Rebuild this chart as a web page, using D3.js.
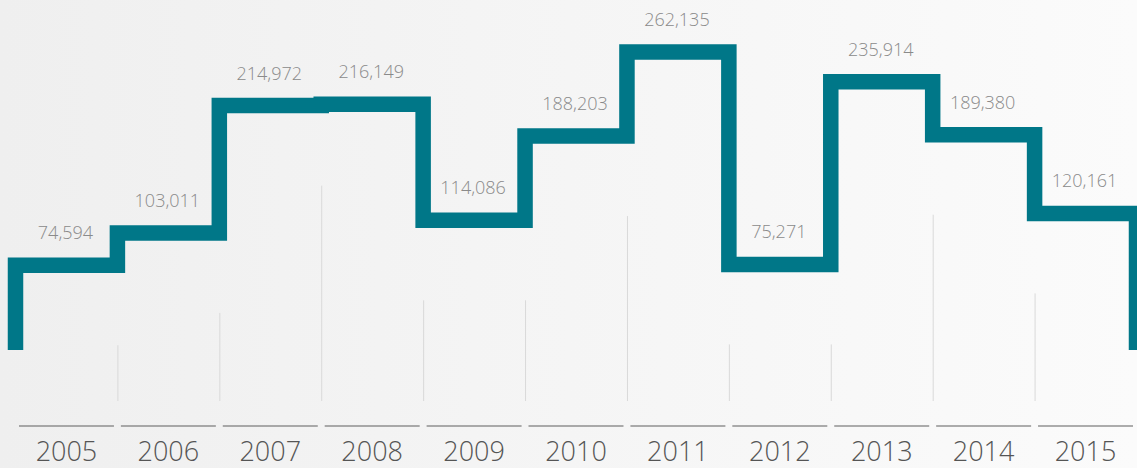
<!DOCTYPE html>
<html>
<head>
<meta charset="utf-8">
<script src="https://cdn.jsdelivr.net/npm/d3@7"></script>
<style>
  html, body { margin: 0; padding: 0; background: #f4f4f4; }
  svg { display: block; }
  text { font-family: "Open Sans", "Noto Sans", sans-serif; font-weight: 300; }
</style>
</head>
<body>
<svg id="chart" width="1137" height="468"></svg>
<script>
// Yearly totals, drawn as a stepped line
const years = ["2005", "2006", "2007", "2008", "2009", "2010", "2011", "2012", "2013", "2014", "2015"];
const totals = [74594, 103011, 214972, 216149, 114086, 188203, 262135, 75271, 235914, 189380, 120161];
const totalLabels = ["74,594", "103,011", "214,972", "216,149", "114,086", "188,203", "262,135", "75,271", "235,914", "189,380", "120,161"];

const W = 1137, H = 468;
const svg = d3.select("#chart");

// soft background wash
const defs = svg.append("defs");
const grad = defs.append("linearGradient").attr("id", "bg")
  .attr("x1", "0%").attr("y1", "0%").attr("x2", "100%").attr("y2", "0%");
grad.append("stop").attr("offset", "0%").attr("stop-color", "#efefef");
grad.append("stop").attr("offset", "100%").attr("stop-color", "#fbfbfb");
svg.append("rect").attr("width", W).attr("height", H).attr("fill", "url(#bg)");

// one band per year
const x = d3.scaleBand().domain(years).range([15.5, 1136.5])
  .paddingInner(0.068).paddingOuter(0.034);
const edge = i => x.range()[0] + i * x.step();   // column boundaries

const y = d3.scaleLinear().domain([0, d3.max(totals)]).range([350, 52]);

// thin separators between columns, stopping a fixed distance under the lower step
const sepBottom = 401, sepGap = 80;
svg.append("g").selectAll("line")
  .data(d3.range(1, years.length))
  .join("line")
  .attr("x1", i => edge(i) + 0.5).attr("x2", i => edge(i) + 0.5)
  .attr("y1", i => y(Math.min(totals[i - 1], totals[i])) + sepGap)
  .attr("y2", sepBottom)
  .attr("stroke", "#d9d9d9").attr("stroke-width", 1);

// stepped line, starting and ending at zero
const pts = [[edge(0), 0]];
totals.forEach((v, i) => { pts.push([edge(i), v]); pts.push([edge(i + 1), v]); });
pts.push([edge(years.length), 0]);

svg.append("path")
  .datum(pts)
  .attr("d", d3.line().x(d => d[0]).y(d => y(d[1])))
  .attr("fill", "none")
  .attr("stroke", "#007788")
  .attr("stroke-width", 15.5)
  .attr("stroke-linejoin", "miter")
  .attr("stroke-linecap", "butt");

// value labels above each step
svg.append("g").selectAll("text")
  .data(totals)
  .join("text")
  .attr("x", (d, i) => x(years[i]) + x.bandwidth() / 2 - 1)
  .attr("y", d => y(d) - 26)
  .attr("text-anchor", "middle")
  .attr("font-size", 18)
  .attr("fill", "#8a8a8a")
  .text((d, i) => totalLabels[i]);

// year axis: underline rule plus label for each band
const axis = svg.append("g");
axis.selectAll("line")
  .data(years)
  .join("line")
  .attr("x1", d => x(d)).attr("x2", d => x(d) + x.bandwidth())
  .attr("y1", 426).attr("y2", 426)
  .attr("stroke", "#5e5e5e").attr("stroke-width", 1.2);
axis.selectAll("text")
  .data(years)
  .join("text")
  .attr("x", d => x(d) + x.bandwidth() / 2)
  .attr("y", 461)
  .attr("text-anchor", "middle")
  .attr("font-size", 27)
  .attr("fill", "#555")
  .text(d => d);
</script>
</body>
</html>
